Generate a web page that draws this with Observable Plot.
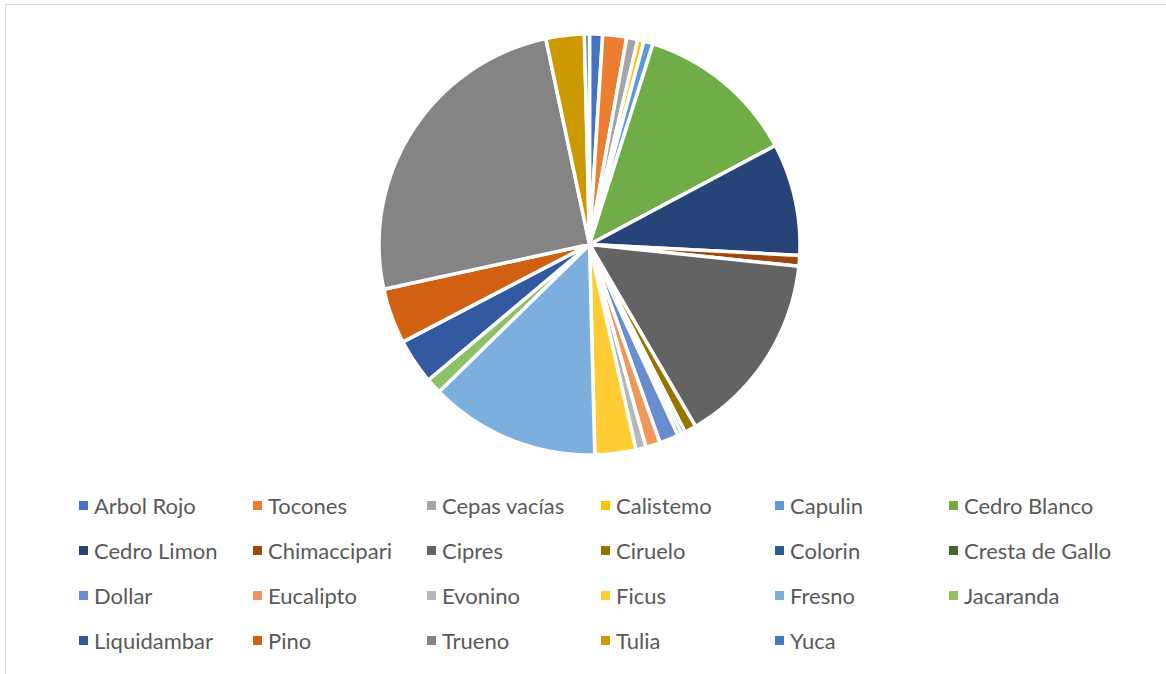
<!DOCTYPE html>
<html>
<head>
<meta charset="utf-8">
<script src="https://cdn.jsdelivr.net/npm/d3@7"></script>
<script src="https://cdn.jsdelivr.net/npm/@observablehq/plot@0.6"></script>
<style>
  html, body { margin: 0; padding: 0; background: #ffffff; }
  body { width: 1166px; height: 674px; position: relative; overflow: hidden; font-family: Lato, "Open Sans", sans-serif; }
  #frame { position: absolute; left: 5px; top: 4px; width: 1170px; height: 690px; border: 1px solid #d9d9d9; box-sizing: border-box; }
  #chart { position: absolute; left: 0; top: 0; }
  #legend { position: absolute; left: 0; top: 0; width: 1166px; height: 674px; }
  .item { position: absolute; display: flex; align-items: center; height: 26px; font-size: 22px; color: #595959; white-space: nowrap; }
  .sw { width: 9px; height: 9px; margin-right: 6px; }
</style>
</head>
<body>
<div id="frame"></div>
<div id="chart"></div>
<div id="legend"></div>
<script>
// Categorías (orden del gráfico, en sentido horario desde las 12)
const categorias = [
  "Arbol Rojo", "Tocones", "Cepas vacías", "Calistemo", "Capulin", "Cedro Blanco",
  "Cedro Limon", "Chimaccipari", "Cipres", "Ciruelo", "Colorin", "Cresta de Gallo",
  "Dollar", "Eucalipto", "Evonino", "Ficus", "Fresno", "Jacaranda",
  "Liquidambar", "Pino", "Trueno", "Tulia", "Yuca"
];
// Porcentaje aproximado de cada categoría
const valores = [
  1.0, 1.83, 0.86, 0.47, 0.72, 12.33,
  8.61, 0.83, 14.94, 0.9, 0.3, 0.3,
  1.47, 1.11, 0.78, 3.14, 13.07, 1.2,
  3.47, 4.25, 25.07, 2.94, 0.39
];
const colores = [
  "#4472C4", "#ED7D31", "#A5A5A5", "#FFC000", "#5B9BD5", "#70AD47",
  "#264478", "#9E480E", "#636363", "#997300", "#255E91", "#43682B",
  "#698ED0", "#F1975A", "#B7B7B7", "#FFCD33", "#7CAFDD", "#8CC168",
  "#335AA1", "#D26012", "#848484", "#CC9A00", "#3A7DC2"
];

// Build slice outlines from the data (unit circle), drawn via Plot scales
const arcos = d3.pie().sort(null).value(d => d)(valores);
const puntos = [];
arcos.forEach((a, i) => {
  const cat = categorias[i];
  puntos.push({categoria: cat, x: 0, y: 0});
  const n = Math.max(2, Math.ceil((a.endAngle - a.startAngle) / 0.004));
  for (let k = 0; k <= n; k++) {
    const t = a.startAngle + (a.endAngle - a.startAngle) * k / n;
    puntos.push({categoria: cat, x: Math.sin(t), y: Math.cos(t)});
  }
  puntos.push({categoria: cat, x: 0, y: 0});
});

const W = 1166, H = 470, CX = 589, CY = 244, R = 210.5;
const plot = Plot.plot({
  width: W,
  height: H,
  margin: 0,
  x: {domain: [-CX / R, (W - CX) / R], axis: null},
  y: {domain: [-(H - CY) / R, CY / R], axis: null},
  color: {domain: categorias, range: colores},
  marks: [
    Plot.line(puntos, {
      x: "x", y: "y", z: "categoria", fill: "categoria",
      stroke: "white", strokeWidth: 3.5, strokeLinejoin: "round", curve: "linear"
    })
  ]
});
document.getElementById("chart").appendChild(plot);

// Legend
const legend = document.getElementById("legend");
const cols = 6, colX0 = 94, colStep = 174, rowY0 = 505, rowStep = 45;
categorias.forEach((c, i) => {
  const col = i % cols, row = Math.floor(i / cols);
  const it = document.createElement("div");
  it.className = "item";
  it.style.left = (colX0 + col * colStep - 15) + "px";
  it.style.top = (rowY0 + row * rowStep - 13) + "px";
  const sw = document.createElement("span");
  sw.className = "sw";
  sw.style.background = colores[i];
  const tx = document.createElement("span");
  tx.textContent = c;
  it.appendChild(sw);
  it.appendChild(tx);
  legend.appendChild(it);
});
</script>
</body>
</html>
